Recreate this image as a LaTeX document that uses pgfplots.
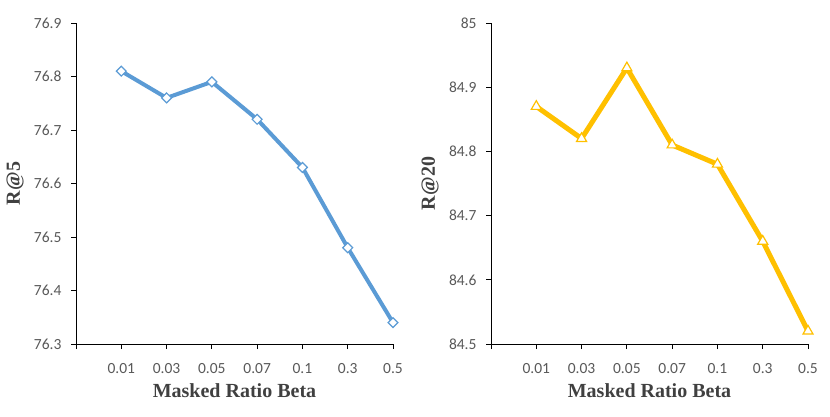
\documentclass[border=0pt]{standalone}
\usepackage{pgfplots}
\pgfplotsset{compat=1.18}
\usepackage{fontspec}
\setmainfont{Liberation Serif}
\newfontfamily\calibri{Carlito}
\definecolor{xblue}{HTML}{5B9BD5}
\definecolor{xgold}{HTML}{FFC000}
\definecolor{ticktxt}{HTML}{595959}
\definecolor{labtxt}{HTML}{404040}
\pgfplotsset{
  panel/.style={
    scale only axis, width=317bp, height=321bp,
    xmin=0, xmax=7,
    axis x line*=bottom, axis y line*=left,
    axis line style={-, line width=0.9bp, black},
    tick align=outside, major tick length=5bp,
    tick style={line width=0.9bp, black},
    xtick={0,1,2,3,4,5,6,7},
    xticklabels={,0.01,0.03,0.05,0.07,0.1,0.3,0.5},
    ytick distance=0.1,
    /pgf/number format/assume math mode=true,
    /pgf/number format/fixed,
    /pgf/number format/precision=1,
    ticklabel style={font=\calibri\fontsize{15.5bp}{17bp}\selectfont, text=ticktxt},
    xticklabel style={yshift=-11bp},
    yticklabel style={xshift=-6bp},
    label style={font=\bfseries\fontsize{20bp}{22bp}\selectfont, text=labtxt},
    xlabel={Masked Ratio Beta},
    xlabel style={yshift=-3bp},
    ylabel style={at={(axis description cs:-0.192,0.5)}, anchor=center},
    clip=false,
  }
}
\begin{document}
\begin{tikzpicture}[x=1bp,y=1bp]
\path[use as bounding box] (0,0) rectangle (830,416);
\begin{axis}[panel, at={(76bp,72bp)}, anchor=south west,
  ymin=76.3, ymax=76.9, ylabel={R@5}]
\addplot[xblue, line width=4bp, mark=square*, mark size=3.5bp,
  mark options={solid, fill=white, draw=xblue, line width=1.2bp, rotate=45}]
  coordinates {(1,76.81) (2,76.76) (3,76.79) (4,76.72) (5,76.63) (6,76.48) (7,76.34)};
\end{axis}
\begin{axis}[panel, at={(491bp,72bp)}, anchor=south west,
  ymin=84.5, ymax=85, ylabel={R@20}]
\addplot[xgold, line width=5bp, mark=triangle*, mark size=5.8bp,
  mark options={solid, fill=white, draw=xgold, line width=1.2bp}]
  coordinates {(1,84.87) (2,84.82) (3,84.93) (4,84.81) (5,84.78) (6,84.66) (7,84.52)};
\end{axis}
\end{tikzpicture}
\end{document}
